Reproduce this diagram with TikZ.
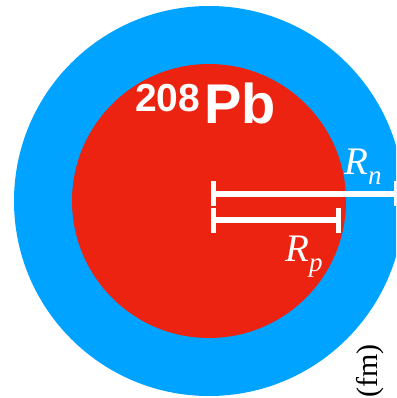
\documentclass[tikz,border=0pt]{standalone}
\usepackage{fontspec}
\setmainfont{Liberation Serif}
\newfontfamily\nuclfont{Liberation Sans}
\usetikzlibrary{calc}
\definecolor{neutron}{HTML}{00A3FF}
\definecolor{proton}{HTML}{EC2310}
\tikzset{
  radbar/.style={draw=white,line width=6pt},
  radtick/.style={draw=white,line width=5.5pt},
  radlabel/.style={text=white,inner sep=0pt,anchor=base west,font=\fontsize{39}{39}\selectfont\itshape},
  nucllabel/.style={text=white,inner sep=0pt,anchor=base west,font=\nuclfont\bfseries},
  unitlabel/.style={text=black,inner sep=0pt,rotate=90,font=\fontsize{30}{30}\selectfont}
}
\newcommand{\radsub}[1]{\raisebox{-10pt}{\fontsize{27}{27}\selectfont #1}}

\begin{document}
\begin{tikzpicture}[x=1pt,y=-1pt]
  \useasboundingbox (0,0) rectangle (396,398);
  \clip (0,0) rectangle (396,398);

  \coordinate (c) at (209,201);
  \fill[neutron] (c) circle[radius=195];
  \fill[proton] (c) circle[radius=137];

  \coordinate (n0) at (213.5,193.5);
  \coordinate (n1) at (397,193.5);
  \coordinate (p0) at (213.5,220);
  \coordinate (p1) at (338.5,220);

  \draw[radbar] (n0) -- (n1);
  \draw[radbar] (p0) -- (p1);
  \draw[radtick] ($(n0)+(0,-12.5)$) -- ($(n0)+(0,12.5)$);
  \draw[radtick] ($(n1)+(0,-12.5)$) -- ($(n1)+(0,12.5)$);
  \draw[radtick] ($(p0)+(0,-12)$) -- ($(p0)+(0,13)$);
  \draw[radtick] ($(p1)+(0,-12)$) -- ($(p1)+(0,13)$);

  \node[nucllabel] (pb) at (135,124) {\raisebox{12pt}{\fontsize{39}{39}\selectfont 208}\hspace{4pt}\fontsize{56}{56}\selectfont Pb};
  \node[radlabel] (rn) at (344,174) {R\radsub{n}};
  \node[radlabel] (rp) at (285,261) {R\radsub{p}};
  \node[unitlabel] (fm) at (370,371) {(fm)};
\end{tikzpicture}
\end{document}
